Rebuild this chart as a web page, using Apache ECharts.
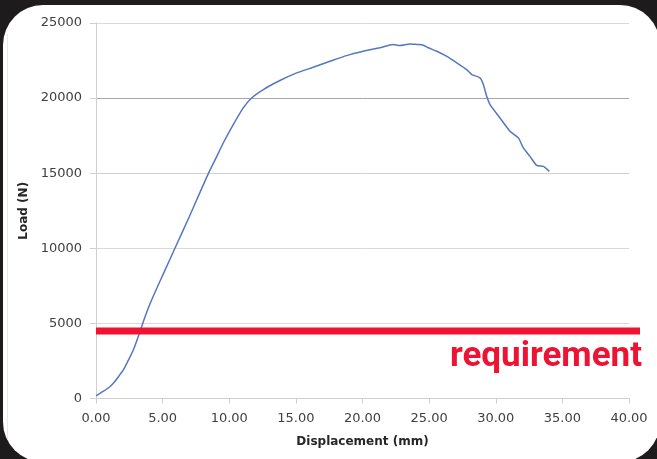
<!DOCTYPE html>
<html>
<head>
<meta charset="utf-8">
<script src="https://cdn.jsdelivr.net/npm/echarts@6/dist/echarts.min.js"></script>
<style>
html,body{margin:0;padding:0;background:#1e1b1c;}
#c{width:657px;height:459px;}
</style>
</head>
<body>
<div id="c"></div>
<script>
// Data
const displacement = [0, 0.5, 1.0, 1.3, 1.6, 2.05, 2.4, 2.8, 3.3, 3.68, 4.18, 5.0, 6.0, 7.0, 7.56, 8.43, 9.0, 9.55, 10.3, 11.05, 11.68, 12.56, 13.8, 15.06, 16.3, 17.56, 18.8, 20.06, 21.3, 22.3, 22.8, 23.56, 24.06, 24.56, 24.94, 25.57, 26.3, 27.07, 27.82, 28.2, 28.82, 29.07, 29.32, 29.57, 30.32, 31.07, 31.7, 32.07, 32.57, 33.07, 33.57, 34.02];
const load = [170, 450, 750, 1010, 1350, 1900, 2500, 3230, 4450, 5450, 6570, 8200, 10150, 12100, 13230, 14970, 16000, 17010, 18230, 19350, 20010, 20570, 21170, 21680, 22050, 22450, 22830, 23120, 23350, 23570, 23500, 23610, 23570, 23520, 23350, 23120, 22790, 22350, 21900, 21570, 21350, 20900, 20120, 19570, 18680, 17790, 17350, 16680, 16120, 15520, 15450, 15120];
const requirementLoad = 4500;
const requirementLabel = 'requirement';
const xTickLabels = ['0.00','5.00','10.00','15.00','20.00','25.00','30.00','35.00','40.00'];
const yTickLabels = ['0','5000','10000','15000','20000','25000'];
const xName = 'Displacement (mm)';
const yName = 'Load (N)';

const chart = echarts.init(document.getElementById('c'));
const labelFont = {fontFamily: 'DejaVu Sans', fontSize: 13, color: '#404040'};
const nameFont = {fontFamily: 'DejaVu Sans', fontSize: 12, fontWeight: 'bold', color: '#262626'};

chart.setOption({
  backgroundColor: '#1e1b1c',
  animation: false,
  graphic: [
    {type: 'rect', z: -10, shape: {x: 3, y: 5, width: 657, height: 457, r: 40}, style: {fill: '#ffffff'}},
    {type: 'line', z: -9, shape: {x1: 7.5, y1: 34, x2: 7.5, y2: 440}, style: {stroke: '#e8e8e8', lineWidth: 1}},
    {type: 'text', z: 10, style: {x: 642, y: 357, text: requirementLabel, textAlign: 'right', textVerticalAlign: 'middle',
      fontFamily: 'Roboto', fontWeight: 'bold', fontSize: 35, fill: '#ec1432'}}
  ],
  grid: [
    {left: 96, right: 28, top: 23, bottom: 60.5},
    {left: 96, right: 17, top: 23, bottom: 60.5}
  ],
  xAxis: [
    {type: 'value', gridIndex: 0, min: 0, max: 40, interval: 5,
     name: xName, nameLocation: 'middle', nameGap: 37, nameTextStyle: nameFont,
     axisLine: {show: true, lineStyle: {color: '#d0d0d0'}},
     axisTick: {show: true, length: 5, lineStyle: {color: '#d0d0d0'}},
     axisLabel: {...labelFont, margin: 14, formatter: v => xTickLabels[Math.round(v / 5)]},
     splitLine: {show: false}},
    {type: 'value', gridIndex: 1, min: 0, max: 1, show: false}
  ],
  yAxis: [
    {type: 'value', gridIndex: 0, min: 0, max: 25000, interval: 5000,
     name: yName, nameLocation: 'middle', nameGap: 57, nameTextStyle: nameFont,
     axisLine: {show: true, lineStyle: {color: '#d0d0d0'}},
     axisTick: {show: true, length: 6, lineStyle: {color: '#d0d0d0'}},
     axisLabel: {...labelFont, margin: 14, formatter: v => yTickLabels[Math.round(v / 5000)]},
     splitLine: {show: true, lineStyle: {color: ['#d9d9d9', '#d9d9d9', '#d9d9d9', '#d0d0d0', '#a8a8a8', '#d9d9d9'], width: 1}}},
    {type: 'value', gridIndex: 1, min: 0, max: 25000, show: false}
  ],
  series: [
    {type: 'line', xAxisIndex: 0, yAxisIndex: 0, showSymbol: false, smooth: 0.2,
     lineStyle: {color: '#5478c0', width: 1.5},
     data: displacement.map((d, i) => [d, load[i]])},
    {type: 'line', xAxisIndex: 1, yAxisIndex: 1, showSymbol: false, z: 5,
     lineStyle: {color: '#ef1233', width: 7},
     data: [[0, requirementLoad], [1, requirementLoad]]}
  ]
});
</script>
</body>
</html>
